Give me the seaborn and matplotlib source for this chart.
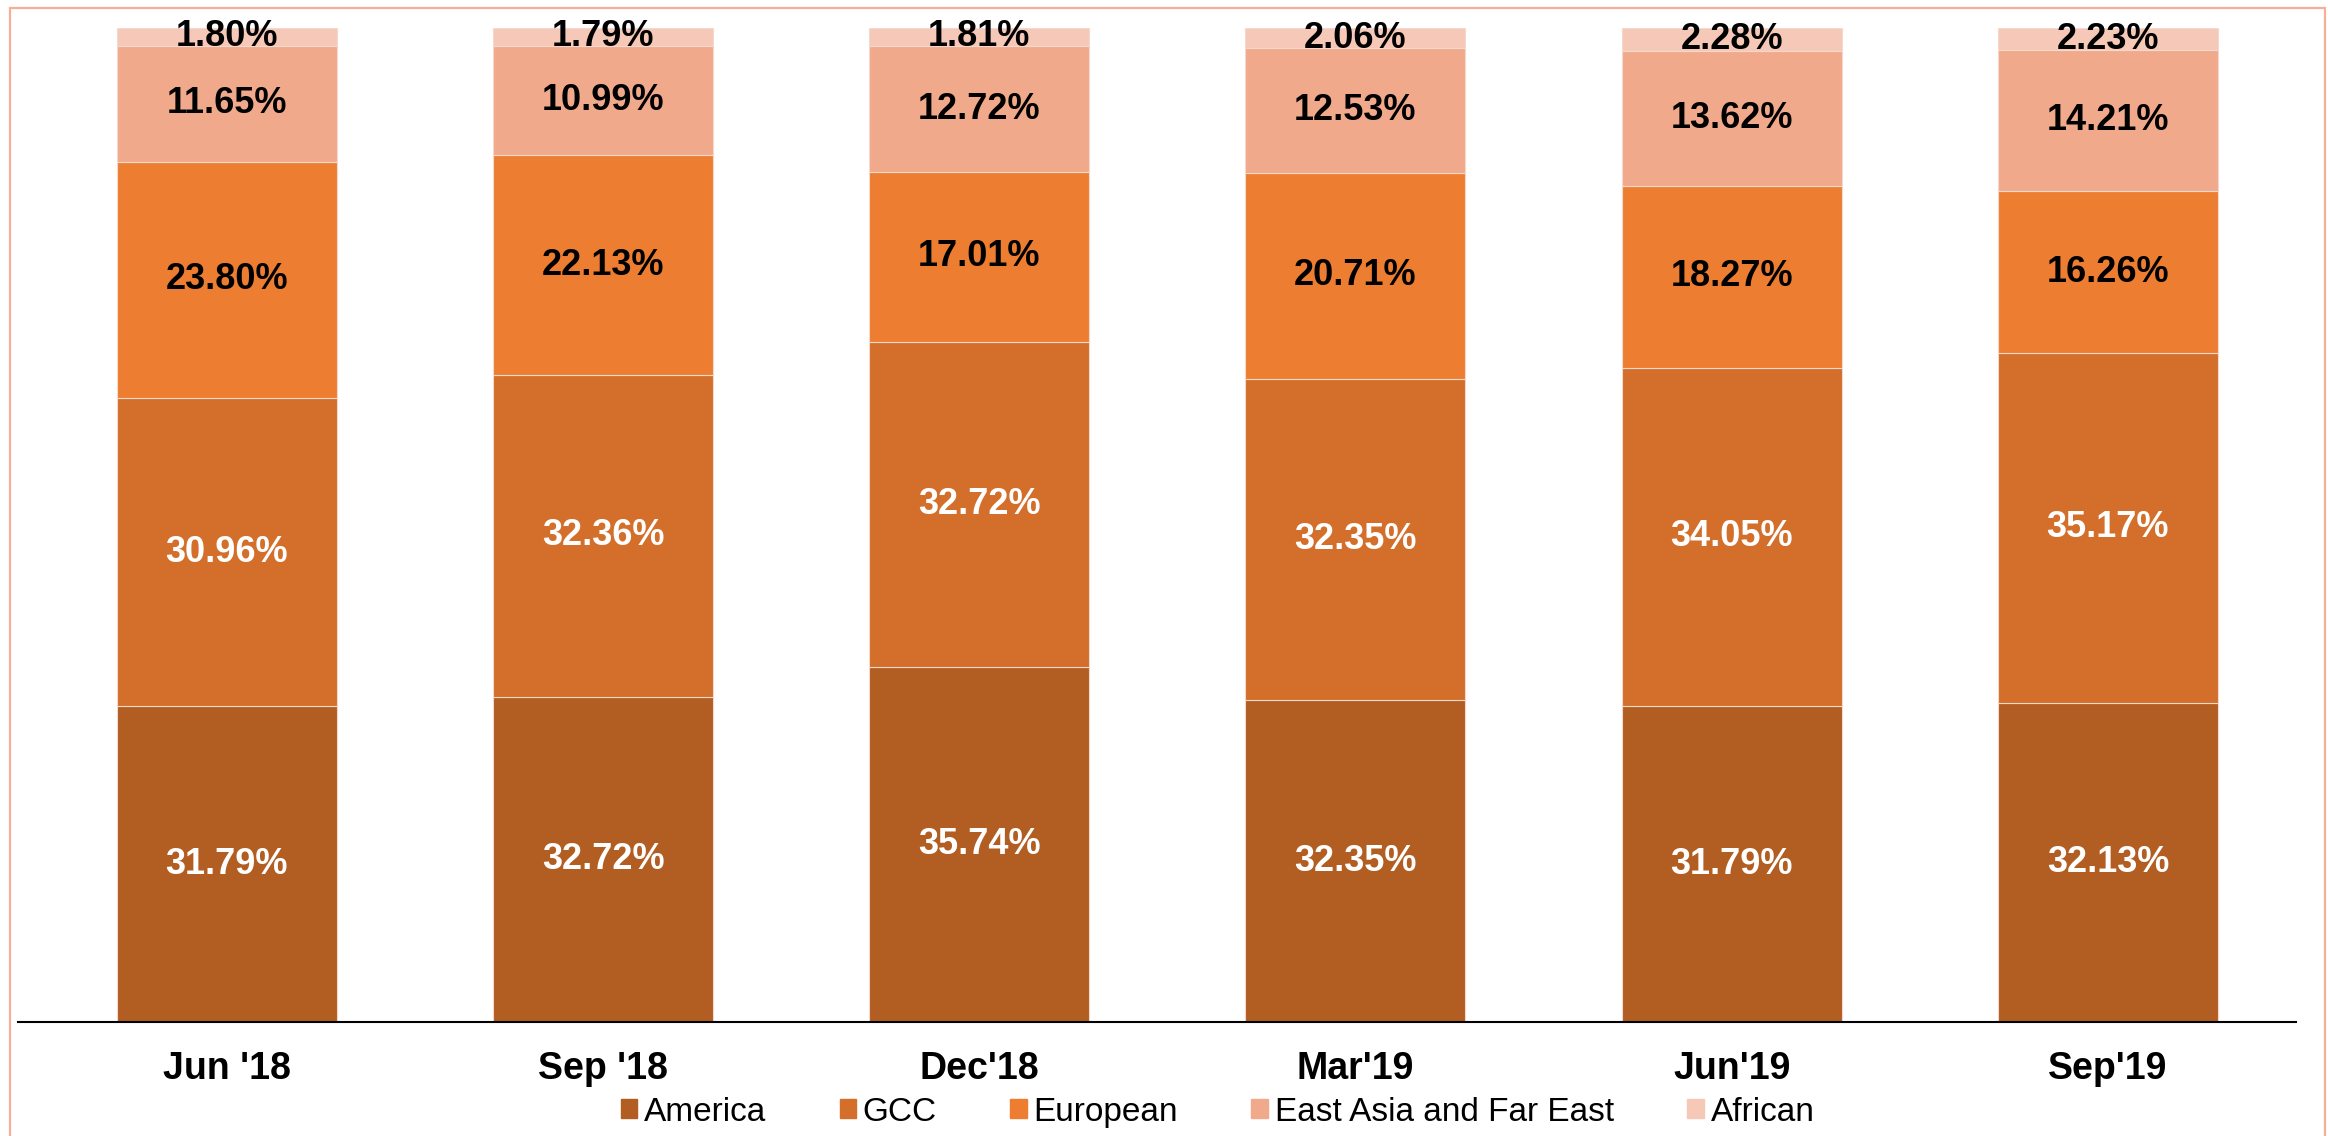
import matplotlib
matplotlib.use("Agg")
import matplotlib.pyplot as plt
import matplotlib.patches as mpatches
import numpy as np
import pandas as pd
import seaborn as sns

# ----------------- Data -----------------
periods = ["Jun '18", "Sep '18", "Dec'18", "Mar'19", "Jun'19", "Sep'19"]
series_names = ["America", "GCC", "European", "East Asia and Far East", "African"]
america = [31.79, 32.72, 35.74, 32.35, 31.79, 32.13]
gcc = [30.96, 32.36, 32.72, 32.35, 34.05, 35.17]
european = [23.80, 22.13, 17.01, 20.71, 18.27, 16.26]
east_asia = [11.65, 10.99, 12.72, 12.53, 13.62, 14.21]
african = [1.80, 1.79, 1.81, 2.06, 2.28, 2.23]

colors = ["#B25D21", "#D36F2B", "#ED7D31", "#F1A98B", "#F6C8B8"]
label_colors = ["white", "white", "black", "black", "black"]

# ----------------- Plot -----------------
sns.set_theme(style="white")
plt.rcParams["font.family"] = ["Liberation Sans", "DejaVu Sans"]

fig = plt.figure(figsize=(23.28, 11.36), dpi=100)
ax = fig.add_axes([18 / 2328, 1 - 1022 / 1136, (2296 - 18) / 2328, (1022 - 28) / 1136])

values = [america, gcc, european, east_asia, african]
bottom = np.zeros(len(periods))
for name, vals, col, lcol in zip(series_names, values, colors, label_colors):
    df = pd.DataFrame({"period": periods, "share": vals})
    sns.barplot(data=df, x="period", y="share", bottom=bottom, color=col,
                width=0.585, edgecolor="#f3d9cc", linewidth=0.8, ax=ax,
                saturation=1)
    cont = ax.containers[-1]
    ax.bar_label(cont, labels=[f"{v:.2f}%" for v in vals], label_type="center",
                 color=lcol, fontsize=26, fontweight="bold")
    bottom = bottom + np.array(vals)

ax.set_ylim(0, 100)
ax.set_xlim(-0.555, 5.5)
ax.set_xlabel("")
ax.set_ylabel("")
ax.set_yticks([])
ax.tick_params(axis="x", length=0, pad=21, labelsize=27, labelcolor="black")
for lbl in ax.get_xticklabels():
    lbl.set_fontweight("bold")
for s in ["top", "right", "left"]:
    ax.spines[s].set_visible(False)
ax.spines["bottom"].set_color("black")
ax.spines["bottom"].set_linewidth(1.5)

handles = [mpatches.Patch(color=c, label=n) for n, c in zip(series_names, colors)]
fig.legend(handles=handles, loc="center", bbox_to_anchor=(0.523, 0.021), ncol=5,
           frameon=False, fontsize=24, handlelength=0.5, handleheight=0.5,
           handletextpad=0.2, columnspacing=2.2, labelcolor="black")

# salmon frame around the chart
fig.patches.append(mpatches.Rectangle((10 / 2328, -0.01), 2315 / 2328, 1 - 8 / 1136 + 0.01,
                                      transform=fig.transFigure, fill=False,
                                      edgecolor="#F7AE98", linewidth=1.6))

fig.savefig("out.png", dpi=100)
